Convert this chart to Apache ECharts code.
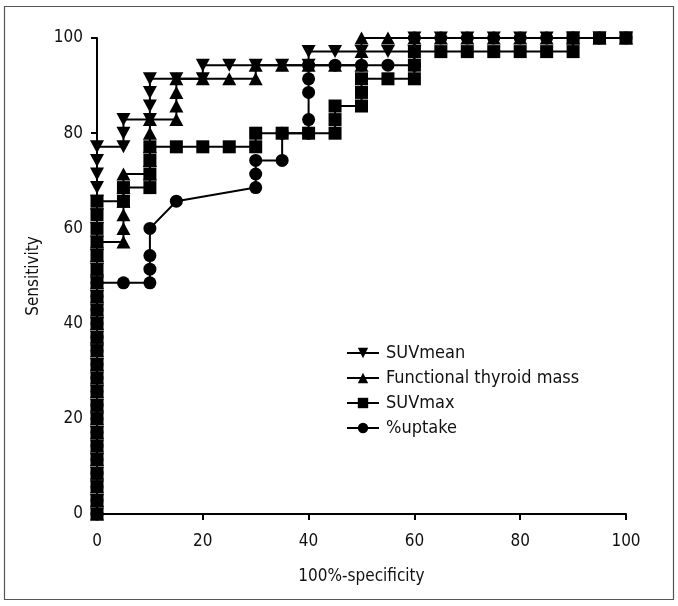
<!DOCTYPE html>
<html>
<head>
<meta charset="utf-8">
<script src="https://cdn.jsdelivr.net/npm/echarts@6/dist/echarts.min.js"></script>
<style>
html,body{margin:0;padding:0;background:#fff;}
#chart{width:678px;height:606px;}
</style>
</head>
<body>
<div id="chart"></div>
<script>
// ROC curve points: [100%-specificity, sensitivity]
const suvMean = [
  [0,0],[0,2.86],[0,5.71],[0,8.57],[0,11.43],[0,14.29],[0,17.14],[0,20],[0,22.86],[0,25.71],
  [0,28.57],[0,31.43],[0,34.29],[0,37.14],[0,40],[0,42.86],[0,45.71],[0,48.57],[0,51.43],[0,54.29],
  [0,57.14],[0,60],[0,62.86],[0,65.71],[0,68.57],[0,71.43],[0,74.29],[0,77.14],
  [5,77.14],[5,80],[5,82.86],
  [10,82.86],[10,85.71],[10,88.57],[10,91.43],
  [15,91.43],
  [20,91.43],[20,94.29],
  [25,94.29],[30,94.29],[35,94.29],
  [40,94.29],[40,97.14],
  [45,97.14],[50,97.14],[55,97.14],
  [60,97.14],[60,100],
  [65,100],[70,100],[75,100],[80,100],[85,100],[90,100],[95,100],[100,100]
];
const thyroidMass = [
  [0,0],[0,2.86],[0,5.71],[0,8.57],[0,11.43],[0,14.29],[0,17.14],[0,20],[0,22.86],[0,25.71],
  [0,28.57],[0,31.43],[0,34.29],[0,37.14],[0,40],[0,42.86],[0,45.71],[0,48.57],[0,51.43],[0,54.29],
  [0,57.14],
  [5,57.14],[5,60],[5,62.86],[5,65.71],[5,68.57],[5,71.43],
  [10,71.43],[10,74.29],[10,77.14],[10,80],[10,82.86],
  [15,82.86],[15,85.71],[15,88.57],[15,91.43],
  [20,91.43],[25,91.43],
  [30,91.43],[30,94.29],
  [35,94.29],[40,94.29],[45,94.29],
  [50,94.29],[50,97.14],[50,100],
  [55,100],[60,100],[65,100],[70,100],[75,100],[80,100],[85,100],[90,100],[95,100],[100,100]
];
const suvMax = [
  [0,0],[0,2.86],[0,5.71],[0,8.57],[0,11.43],[0,14.29],[0,17.14],[0,20],[0,22.86],[0,25.71],
  [0,28.57],[0,31.43],[0,34.29],[0,37.14],[0,40],[0,42.86],[0,45.71],[0,48.57],[0,51.43],[0,54.29],
  [0,57.14],[0,60],[0,62.86],[0,65.71],
  [5,65.71],[5,68.57],
  [10,68.57],[10,71.43],[10,74.29],[10,77.14],
  [15,77.14],[20,77.14],[25,77.14],
  [30,77.14],[30,80],
  [35,80],[40,80],
  [45,80],[45,82.86],[45,85.71],
  [50,85.71],[50,88.57],[50,91.43],
  [55,91.43],
  [60,91.43],[60,94.29],[60,97.14],
  [65,97.14],[70,97.14],[75,97.14],[80,97.14],[85,97.14],
  [90,97.14],[90,100],
  [95,100],[100,100]
];
const uptake = [
  [0,0],[0,2.86],[0,5.71],[0,8.57],[0,11.43],[0,14.29],[0,17.14],[0,20],[0,22.86],[0,25.71],
  [0,28.57],[0,31.43],[0,34.29],[0,37.14],[0,40],[0,42.86],[0,45.71],[0,48.57],
  [5,48.57],
  [10,48.57],[10,51.43],[10,54.29],[10,60],
  [15,65.71],
  [30,68.57],[30,71.43],[30,74.29],
  [35,74.29],[35,80],
  [40,80],[40,82.86],[40,88.57],[40,91.43],[40,94.29],
  [45,94.29],[50,94.29],[55,94.29],
  [60,94.29],[60,100],
  [65,100],[70,100],[75,100],[80,100],[85,100],[90,100],[95,100],[100,100]
];
const seriesNames = ['SUVmean','Functional thyroid mass','SUVmax','%uptake'];
const xTicks = [0,20,40,60,80,100];
const yTicks = [0,20,40,60,80,100];

const FONT = 'DejaVu Sans Condensed';
const downTri = 'path://M0,0L2,0L1,1.732Z';

function mk(name, data, symbol, size) {
  return {
    name: name, type: 'line', data: data,
    symbol: symbol, symbolSize: size, showAllSymbol: true,
    clip: false,
    lineStyle: { color: '#000', width: 2 },
    itemStyle: { color: '#000', borderWidth: 0 },
    emphasis: { disabled: true }
  };
}

const chart = echarts.init(document.getElementById('chart'), null, { renderer: 'canvas' });
chart.setOption({
  animation: false,
  backgroundColor: '#fff',
  textStyle: { fontFamily: FONT, color: '#111' },
  grid: { left: 97, right: 52, top: 38, bottom: 92, containLabel: false },
  graphic: [{
    type: 'rect', shape: { x: 4.5, y: 6.5, width: 669, height: 593 },
    style: { fill: 'none', stroke: '#555', lineWidth: 1.2 }, silent: true, z: -10
  }],
  legend: {
    orient: 'vertical', left: 341, top: 339,
    itemWidth: 32, itemHeight: 13, itemGap: 7,
    data: seriesNames,
    textStyle: { fontFamily: FONT, fontSize: 18, color: '#111', padding: [0, 0, 0, 2] }
  },
  xAxis: {
    type: 'value', min: xTicks[0], max: xTicks[xTicks.length - 1], interval: 20,
    name: '100%-specificity', nameLocation: 'middle', nameGap: 54,
    nameTextStyle: { fontFamily: FONT, fontSize: 17, color: '#111' },
    axisLine: { lineStyle: { color: '#000', width: 2 } },
    axisTick: { show: true, length: 6, lineStyle: { color: '#000', width: 2 } },
    axisLabel: { fontFamily: FONT, fontSize: 17, color: '#111', margin: 19 },
    splitLine: { show: false }
  },
  yAxis: {
    type: 'value', min: yTicks[0], max: yTicks[yTicks.length - 1], interval: 20,
    name: 'Sensitivity', nameLocation: 'middle', nameGap: 55,
    nameTextStyle: { fontFamily: FONT, fontSize: 17, color: '#111' },
    axisLine: { lineStyle: { color: '#000', width: 2 } },
    axisTick: { show: true, length: 6, lineStyle: { color: '#000', width: 2 } },
    axisLabel: { fontFamily: FONT, fontSize: 17, color: '#111', margin: 14 },
    splitLine: { show: false }
  },
  series: [
    mk(seriesNames[0], suvMean, downTri, [14, 13]),
    mk(seriesNames[1], thyroidMass, 'triangle', [14, 13]),
    mk(seriesNames[2], suvMax, 'rect', [13, 13]),
    mk(seriesNames[3], uptake, 'circle', 13)
  ]
});
</script>
</body>
</html>
